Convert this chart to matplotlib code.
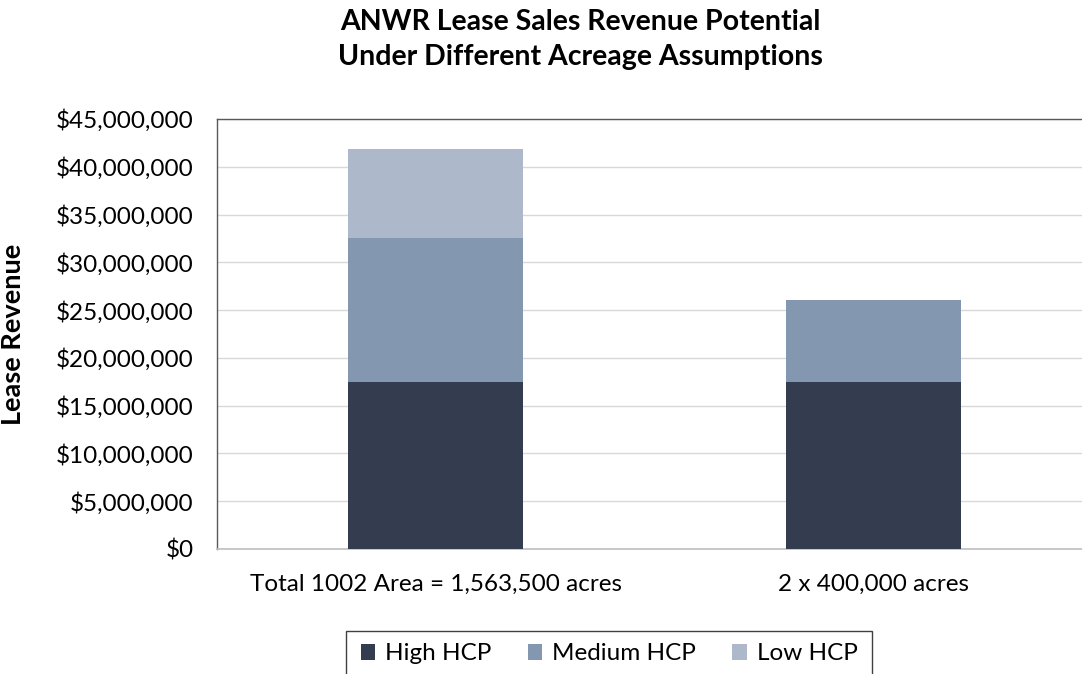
import matplotlib
matplotlib.use("Agg")
import matplotlib.pyplot as plt
from matplotlib.patches import Rectangle
from matplotlib.ticker import FuncFormatter, MultipleLocator
import numpy as np

plt.rcParams['font.family'] = ['Lato', 'DejaVu Sans']

categories = ["Total 1002 Area = 1,563,500 acres", "2 x 400,000 acres"]
series_names = ["High HCP", "Medium HCP", "Low HCP"]
high_hcp = [17_500_000, 17_500_000]
medium_hcp = [15_050_000, 8_600_000]
low_hcp = [9_300_000, 0]
colors = ["#333d4f", "#8497b0", "#adb9ca"]

W, H = 1082, 674
fig = plt.figure(figsize=(W / 100, H / 100), dpi=100)
ax = fig.add_axes([217 / W, 1 - 549 / H, 875 / W, 430 / H])

x = np.arange(len(categories))
bottom = np.zeros(len(categories))
for name, vals, col in zip(series_names, [high_hcp, medium_hcp, low_hcp], colors):
    vals = np.array(vals, dtype=float)
    ax.bar(x, vals, width=0.4, bottom=bottom, color=col, label=name, zorder=3)
    bottom += vals

ax.set_xlim(-0.5, 1.5)
ax.set_ylim(0, 45_000_000)
ax.yaxis.set_major_locator(MultipleLocator(5_000_000))
ax.yaxis.set_major_formatter(FuncFormatter(lambda v, p: f"${v:,.0f}"))
ax.grid(axis='y', color='#d9d9d9', linewidth=1, zorder=0)
ax.set_xticks(x)
ax.set_xticklabels(categories)
ax.tick_params(axis='both', length=0, labelsize=17.5, colors='black')
ax.tick_params(axis='x', pad=18)
ax.tick_params(axis='y', pad=17)

for s in ['left', 'top']:
    ax.spines[s].set_color('#595959')
    ax.spines[s].set_linewidth(1.0)
ax.spines['bottom'].set_color('#bfbfbf')
ax.spines['bottom'].set_linewidth(1.2)
ax.spines['right'].set_visible(False)

ax.set_ylabel("Lease Revenue", fontsize=19.5, fontweight='bold')
ax.yaxis.set_label_coords((25 - 217) / 875, 0.5)

fig.text(580 / W, 1 - 30 / H, "ANWR Lease Sales Revenue Potential",
         ha='center', va='baseline', fontsize=20.5, fontweight='bold')
fig.text(580 / W, 1 - 65 / H, "Under Different Acreage Assumptions",
         ha='center', va='baseline', fontsize=20.5, fontweight='bold')

# Legend entries without their own frame; the box is drawn separately
leg = fig.legend(loc='upper center', bbox_to_anchor=(609 / W, 1 - 624 / H),
                 ncol=3, frameon=False, fontsize=17.5,
                 handlelength=0.6, handleheight=0.6, handletextpad=0.4,
                 columnspacing=1.5, borderpad=0.3)
fig.patches.append(Rectangle((346 / W, -20 / H), (872 - 346) / W, (20 + 674 - 631) / H,
                             transform=fig.transFigure, fill=False,
                             edgecolor='#404040', linewidth=1.0))

fig.savefig("out.png", dpi=100)
